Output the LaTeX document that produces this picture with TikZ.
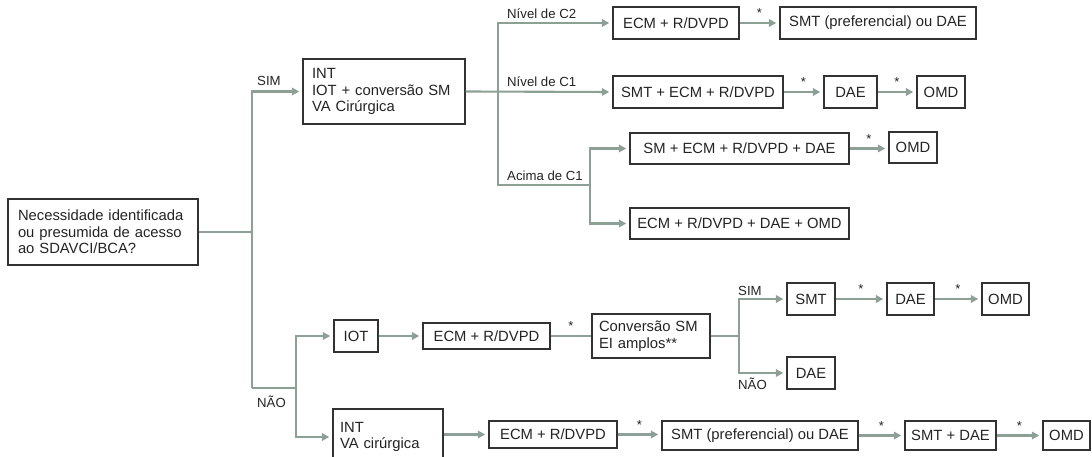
\documentclass[tikz,border=0pt]{standalone}
\usepackage{fontspec}
\setmainfont{Liberation Sans}
\usetikzlibrary{arrows.meta}
\definecolor{conncol}{RGB}{140,160,150}
\definecolor{boxcol}{RGB}{50,50,50}
\definecolor{txtcol}{RGB}{35,35,35}
\tikzset{
  box/.style={draw=boxcol, line width=1.4pt, inner sep=0pt, align=center,
    font=\fontsize{14.8}{16.5}\selectfont, text=txtcol},
  conn/.style={draw=conncol, line width=2.1pt},
  arr/.style={conn, -{Triangle[length=7.5pt,width=7.5pt]}, shorten >=3pt},
  lab/.style={font=\fontsize{13.2}{15}\selectfont, text=txtcol, inner sep=0pt},
  star/.style={font=\fontsize{13}{13}\selectfont, text=txtcol, inner sep=0pt}
}
\begin{document}
\begin{tikzpicture}[x=1pt,y=-1pt]
\useasboundingbox (0,0) rectangle (1092,457);
% boxes
\node[box, minimum width=190pt, minimum height=66pt, text width=170pt, align=left] (q) at (103,232) {Necessidade identificada\\ou presumida de acesso\\ao SDAVCI/BCA?};
\node[box, minimum width=162pt, minimum height=65pt, text width=144pt, align=left] (int1) at (384,91.5) {INT\\IOT + conversão SM\\VA Cirúrgica};
\node[box, minimum width=126pt, minimum height=32pt] (c2a) at (676,23) {ECM + R/DVPD};
\node[box, minimum width=196pt, minimum height=32pt] (c2b) at (878,23) {SMT (preferencial) ou DAE};
\node[box, minimum width=170pt, minimum height=32pt] (c1a) at (698,92) {SMT + ECM + R/DVPD};
\node[box, minimum width=53pt, minimum height=32pt] (c1b) at (850.5,92) {DAE};
\node[box, minimum width=48pt, minimum height=32pt] (c1c) at (941,92) {OMD};
\node[box, minimum width=219pt, minimum height=31pt] (a1a) at (739.5,148.5) {SM + ECM + R/DVPD + DAE};
\node[box, minimum width=48pt, minimum height=31pt] (a1b) at (913,147.5) {OMD};
\node[box, minimum width=219pt, minimum height=31pt] (a2) at (739.5,223.5) {ECM + R/DVPD + DAE + OMD};
\node[box, minimum width=44pt, minimum height=32pt] (iot) at (356,336) {IOT};
\node[box, minimum width=127pt, minimum height=26pt] (n1) at (486.5,336) {ECM + R/DVPD};
\node[box, minimum width=118pt, minimum height=44pt, text width=104pt, align=left] (conv) at (651,336) {Conversão SM\\EI amplos**};
\node[box, minimum width=48pt, minimum height=32pt] (smt) at (811,299) {SMT};
\node[box, minimum width=47pt, minimum height=32pt] (dae1) at (910.5,299) {DAE};
\node[box, minimum width=47pt, minimum height=32pt] (omd1) at (1005.5,299) {OMD};
\node[box, minimum width=48pt, minimum height=32pt] (dae2) at (811,373) {DAE};
\node[box, minimum width=110pt, minimum height=56pt, text width=96pt, align=left] (int2) at (388,437) {INT\\VA cirúrgica};
\node[box, minimum width=128pt, minimum height=27pt] (n2) at (553,434.5) {ECM + R/DVPD};
\node[box, minimum width=196pt, minimum height=29pt] (p2) at (760,435.5) {SMT (preferencial) ou DAE};
\node[box, minimum width=91pt, minimum height=29pt] (sd) at (950.5,435.5) {SMT + DAE};
\node[box, minimum width=47pt, minimum height=29pt] (omd2) at (1066.5,435.5) {OMD};
% junction coordinates
\coordinate (tb) at (252,388);
\coordinate (nb) at (296,388);
\coordinate (v1) at (498,91.5);
\coordinate (v2) at (590,185);
\coordinate (v3) at (739,336);
% main trunk
\draw[conn] (q.east) -- (q.east -| tb);
\draw[arr] (tb) |- (int1.west);
\draw[conn] (tb) -- (nb);
\node[lab, anchor=south west] (lsim) at (257,86) {SIM};
\node[lab, anchor=north west] (lnao) at (257,396) {NÃO};
% upper branch
\draw[arr] (int1.east) -- (c1a.west);
\draw[arr] (v1) |- (c2a.west);
\draw[conn] (v1) |- (v2);
\draw[arr] (v2) |- (a1a.west);
\draw[arr] (v2) |- (a2.west);
\node[lab, anchor=south west] (lc2) at (507,19) {Nível de C2};
\node[lab, anchor=south west] (lc1) at (507,87) {Nível de C1};
\node[lab, anchor=south west] (la1) at (507,181) {Acima de C1};
\draw[arr] (c2a) -- (c2b) node[star, midway, above=4pt] {*};
\draw[arr] (c1a) -- (c1b) node[star, midway, above=4pt] {*};
\draw[arr] (c1b) -- (c1c) node[star, midway, above=4pt] {*};
\draw[arr] (a1a.east) -- (a1a.east -| a1b.west) node[star, midway, above=4pt] {*};
% lower branch
\draw[arr] (nb) |- (iot.west);
\draw[arr] (nb) |- (int2.west);
\draw[arr] (iot) -- (n1);
\draw[conn] (n1) -- (conv) node[star, midway, above=4pt] {*};
\draw[conn] (conv.east) -- (v3);
\draw[arr] (v3) |- (smt.west);
\draw[arr] (v3) |- (dae2.west);
\node[lab, anchor=south west] (lsim2) at (738,296) {SIM};
\node[lab, anchor=north west] (lnao2) at (738,378) {NÃO};
\draw[arr] (smt) -- (dae1) node[star, midway, above=4pt] {*};
\draw[arr] (dae1) -- (omd1) node[star, midway, above=4pt] {*};
\draw[arr] (int2.east |- n2.west) -- (n2.west);
\draw[arr] (n2.east) -- (n2.east -| p2.west) node[star, midway, above=4pt] {*};
\draw[arr] (p2) -- (sd) node[star, midway, above=4pt] {*};
\draw[arr] (sd) -- (omd2) node[star, midway, above=4pt] {*};
\end{tikzpicture}
\end{document}
